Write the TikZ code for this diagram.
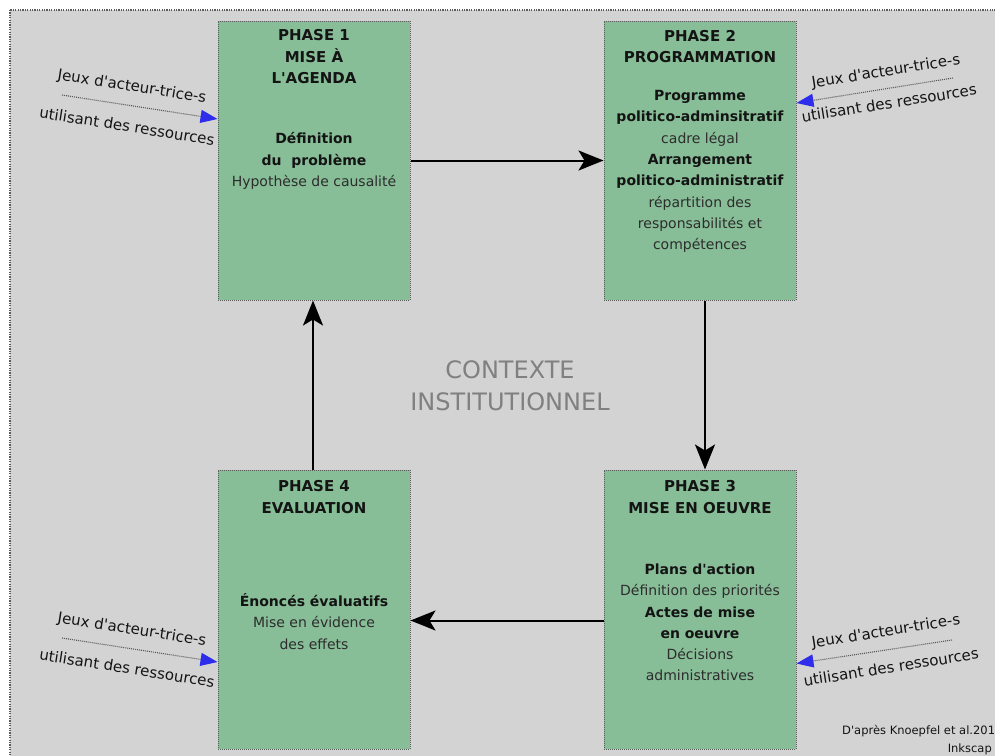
\documentclass[tikz,border=0pt]{standalone}
\usepackage{fontspec}
\setmainfont{DejaVu Sans}[Ligatures=TeXOff]
\usetikzlibrary{arrows.meta}
\definecolor{bggray}{RGB}{211,211,211}
\definecolor{boxgreen}{RGB}{135,189,151}
\definecolor{bordergray}{RGB}{90,90,90}
\definecolor{txtdark}{RGB}{20,20,20}
\definecolor{txtgray}{RGB}{45,45,45}
\definecolor{ctxgray}{RGB}{128,128,128}
\definecolor{tipblue}{RGB}{45,45,235}
\newcommand{\bd}[1]{{\bfseries\color{txtdark}#1}}
\begin{document}
\begin{tikzpicture}[x=1pt,y=-1pt,
  phasebox/.style={draw=bordergray, line width=1pt, dash pattern=on 1pt off 1pt, fill=boxgreen, minimum width=192pt, minimum height=279pt, inner sep=0pt},
  titletext/.style={font=\fontsize{15}{21.5}\selectfont\bfseries, text=txtdark, align=center, inner sep=0pt},
  bodytext/.style={font=\fontsize{14}{21.3}\selectfont, text=txtgray, align=center, inner sep=0pt},
  flow/.style={line width=2pt, -{Stealth[length=25pt,width=20pt,inset=6pt]}},
  actor/.style={font=\fontsize{15}{18}\selectfont, text=txtdark, inner sep=0pt},
  actorarrow/.style={draw=bordergray, line width=1.1pt, dash pattern=on 1pt off 1pt, -{Triangle[length=17pt,width=13pt,fill=tipblue,color=tipblue]}},
  foot/.style={font=\fontsize{11.5}{14}\selectfont, text=txtdark, inner sep=0pt}
]
\useasboundingbox (0,0) rectangle (995,755);
\clip (0,0) rectangle (995,755);
% background (institutional context)
\draw[draw=bordergray, line width=1.1pt, dash pattern=on 1.2pt off 1.2pt, fill=bggray] (10,10) rectangle (1010,770);

% phase boxes
\node[phasebox] (p1) at (314,160.5) {};
\node[phasebox] (p2) at (700,160.5) {};
\node[phasebox] (p3) at (700,609.5) {};
\node[phasebox] (p4) at (314,609.5) {};

% titles
\node[titletext] (t1) at (314,57) {PHASE 1\\MISE À\\L'AGENDA};
\node[titletext] (t2) at (700,46.5) {PHASE 2\\PROGRAMMATION};
\node[titletext] (t3) at (700,497) {PHASE 3\\MISE EN OEUVRE};
\node[titletext] (t4) at (314,497) {PHASE 4\\EVALUATION};

% bodies
\node[bodytext] (d1) at (314,161) {\bd{Définition}\\\bd{du~ problème}\\Hypothèse de causalité};
\node[bodytext] (d2) at (700,171.5) {\bd{Programme}\\\bd{politico-adminsitratif}\\cadre légal\\\bd{Arrangement}\\\bd{politico-administratif}\\répartition des\\responsabilités et\\compétences};
\node[bodytext] (d3) at (700,622.5) {\bd{Plans d'action}\\Définition des priorités\\\bd{Actes de mise}\\\bd{en oeuvre}\\Décisions\\administratives};
\node[bodytext] (d4) at (314,621.5) {\bd{Énoncés évaluatifs}\\Mise en évidence\\des effets};

% context label
\node[font=\fontsize{24}{32}\selectfont, text=ctxgray, align=center, inner sep=0pt] (ctxt) at (510,386) {CONTEXTE\\INSTITUTIONNEL};

% cycle
\draw[flow] (p1.east) -- (p2.west);
\draw[flow] ([xshift=5pt]p2.south) -- ([xshift=5pt]p3.north);
\draw[flow] ([yshift=-11pt]p3.west) -- ([yshift=-11pt]p4.east);
\draw[flow] ([xshift=-1pt]p4.north) -- ([xshift=-1pt]p1.south);

% actor games
\node[actor, rotate=-9] (j1) at (132,87) {Jeux d'acteur-trice-s};
\node[actor, rotate=-9] (u1) at (127,126) {utilisant des ressources};
\coordinate (s1) at (62,95);
\coordinate (e1) at ([yshift=41.5pt]p1.west);
\draw[actorarrow] (s1) -- (e1);

\node[actor, rotate=9] (j2) at (886,72) {Jeux d'acteur-trice-s};
\node[actor, rotate=9] (u2) at (889,103) {utilisant des ressources};
\coordinate (s2) at (953,78);
\coordinate (e2) at ([yshift=57.5pt]p2.east);
\draw[actorarrow] (s2) -- (e2);

\node[actor, rotate=9] (j3) at (886,632) {Jeux d'acteur-trice-s};
\node[actor, rotate=9] (u3) at (891,667) {utilisant des ressources};
\coordinate (s3) at (952,640);
\coordinate (e3) at ([yshift=-54pt]p3.east);
\draw[actorarrow] (s3) -- (e3);

\node[actor, rotate=-9] (j4) at (132,630) {Jeux d'acteur-trice-s};
\node[actor, rotate=-9] (u4) at (127,668) {utilisant des ressources};
\coordinate (s4) at (62,638);
\coordinate (e4) at ([yshift=-52.5pt]p4.west);
\draw[actorarrow] (s4) -- (e4);

% source
\node[foot, anchor=west] (src) at (842,731) {D'après Knoepfel et al.201};
\node[foot, anchor=east] (ink) at (992,749) {Inkscap};
\end{tikzpicture}
\end{document}
